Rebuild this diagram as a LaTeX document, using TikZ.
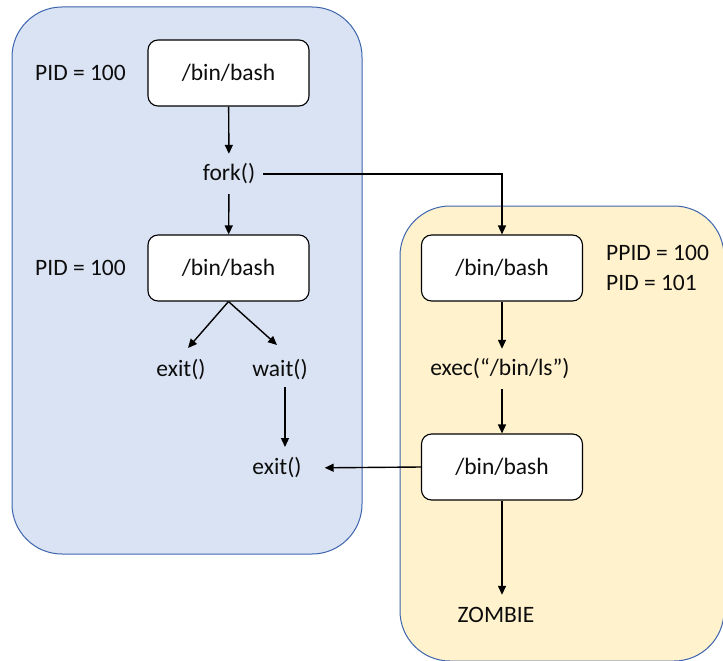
\documentclass[tikz,border=0pt]{standalone}
\usepackage{fontspec}
\setmainfont{Carlito}
\usetikzlibrary{arrows.meta,calc}
\definecolor{fillblue}{HTML}{DAE3F3}
\definecolor{fillyellow}{HTML}{FFF2CC}
\definecolor{bordblue}{HTML}{3C64AE}
\begin{document}
\begin{tikzpicture}[x=1pt,y=-1pt,
  every node/.style={font=\fontsize{23.5}{28}\selectfont, text=black!95},
  arr/.style={draw=black,line width=1.4pt,-{Triangle[length=9pt,width=8pt]}},
  proc/.style={draw=black,line width=1.1pt,fill=white,rounded corners=10pt,minimum width=161pt,minimum height=66pt,inner sep=0pt},
  lbl/.style={inner sep=0pt,minimum height=40pt},
  side/.style={inner sep=0pt,anchor=west},
  region/.style={draw=bordblue,line width=1pt,rounded corners=50pt}]
\useasboundingbox (0,0) rectangle (723,661);
\clip (0,0) rectangle (723,661);
% regions
\draw[region,fill=fillblue] (12,7) rectangle (362,554);
\draw[region,fill=fillyellow] (400,206) rectangle (724,661);
% parent process
\node[proc] (b1) at (228.5,73) {/bin/bash};
\node[side] (pid1) at (35,73) {PID = 100};
\node[lbl] (fork) at (229,174) {fork()};
\node[proc] (b2) at (228.5,268) {/bin/bash};
\node[side] (pid2) at (35,268) {PID = 100};
\node[lbl] (exit1) at (181,370) {exit()};
\node[lbl] (wait) at (280,370) {wait()};
\node[lbl] (exit2) at (277,468) {exit()};
% child process
\node[proc] (c1) at (502,268) {/bin/bash};
\node[side] (ppid) at (606,253) {PPID = 100};
\node[side] (pid3) at (606,283) {PID = 101};
\node[lbl] (exec) at (500,369) {exec(“/bin/ls”)};
\node[proc] (c2) at (502,467) {/bin/bash};
\node[lbl] (zombie) at (496,615) {ZOMBIE};
% connectors
\draw[arr] (b1) -- (fork);
\draw[arr] (fork) -- (b2);
\draw[arr,shorten <=8pt] (fork.east) -| (c1.north);
\draw[arr] (b2.south) -- ($(exit1.center)+(7,-22)$);
\draw[arr] (b2.south) -- ($(wait.center)+(-3,-25)$);
\draw[arr] ($(wait.center)+(5,17)$) -- ($(exit2.center)+(8,-21)$);
\draw[arr] (c1) -- (exec.north -| c1.south);
\draw[arr] (exec.south -| c1.south) -- (c1.south |- c2.north);
\draw[arr] (c2.south) -- (c2.south |- zombie.north);
\draw[arr,shorten >=23pt] (c2.west) -- (exit2.east);
\end{tikzpicture}
\end{document}
